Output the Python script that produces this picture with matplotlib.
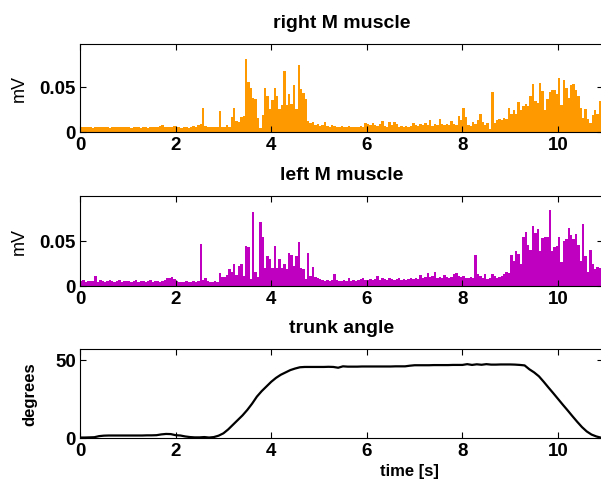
import numpy as np
import matplotlib
matplotlib.use('Agg')
import matplotlib.pyplot as plt
from matplotlib import rcParams

rcParams.update({'font.family': ['Liberation Sans', 'DejaVu Sans']})

# EMG envelopes, one value per 0.05 s bin (mV)
bin_width = 0.05
right_m = [
    # 0 s
    0.006, 0.005, 0.005, 0.006, 0.005, 0.004, 0.005, 0.005, 0.006, 0.005,
    0.005, 0.005, 0.004, 0.005, 0.006, 0.005, 0.005, 0.006, 0.005, 0.005,
    # 1 s
    0.005, 0.004, 0.005, 0.006, 0.005, 0.004, 0.005, 0.005, 0.004, 0.005,
    0.006, 0.005, 0.005, 0.007, 0.008, 0.006, 0.005, 0.006, 0.005, 0.007,
    # 2 s
    0.005, 0.006, 0.004, 0.005, 0.005, 0.004, 0.006, 0.007, 0.006, 0.008,
    0.009, 0.027, 0.007, 0.005, 0.006, 0.005, 0.005, 0.006, 0.023, 0.006,
    # 3 s
    0.005, 0.008, 0.006, 0.016, 0.027, 0.012, 0.011, 0.017, 0.018, 0.081,
    0.055, 0.048, 0.038, 0.036, 0.015, 0.004, 0.019, 0.049, 0.040, 0.025,
    # 4 s
    0.035, 0.048, 0.040, 0.025, 0.030, 0.067, 0.030, 0.042, 0.031, 0.052,
    0.025, 0.074, 0.047, 0.043, 0.036, 0.012, 0.010, 0.011, 0.008, 0.009,
    # 5 s
    0.007, 0.008, 0.011, 0.007, 0.006, 0.008, 0.007, 0.006, 0.006, 0.007,
    0.006, 0.006, 0.007, 0.005, 0.006, 0.005, 0.006, 0.007, 0.006, 0.010,
    # 6 s
    0.009, 0.008, 0.010, 0.008, 0.007, 0.009, 0.012, 0.007, 0.006, 0.011,
    0.008, 0.011, 0.009, 0.006, 0.007, 0.006, 0.007, 0.006, 0.007, 0.010,
    # 7 s
    0.008, 0.007, 0.009, 0.008, 0.010, 0.008, 0.013, 0.007, 0.009, 0.008,
    0.014, 0.009, 0.008, 0.009, 0.008, 0.012, 0.009, 0.008, 0.018, 0.013,
    # 8 s
    0.027, 0.016, 0.008, 0.007, 0.011, 0.009, 0.013, 0.020, 0.011, 0.008,
    0.010, 0.003, 0.044, 0.010, 0.013, 0.014, 0.013, 0.015, 0.014, 0.027,
    # 9 s
    0.020, 0.024, 0.020, 0.033, 0.024, 0.029, 0.031, 0.029, 0.040, 0.053,
    0.034, 0.032, 0.054, 0.045, 0.024, 0.036, 0.044, 0.046, 0.046, 0.042,
    # 10 s
    0.060, 0.030, 0.057, 0.049, 0.037, 0.052, 0.053, 0.046, 0.040, 0.027,
    0.015, 0.025, 0.014, 0.010, 0.019, 0.024, 0.020, 0.034, 0.022,
]
left_m = [
    # 0 s
    0.006, 0.007, 0.005, 0.006, 0.006, 0.006, 0.011, 0.005, 0.007, 0.006,
    0.005, 0.006, 0.007, 0.006, 0.005, 0.006, 0.007, 0.005, 0.006, 0.006,
    # 1 s
    0.006, 0.005, 0.006, 0.007, 0.005, 0.006, 0.006, 0.005, 0.006, 0.007,
    0.005, 0.006, 0.006, 0.005, 0.006, 0.007, 0.009, 0.009, 0.010, 0.008,
    # 2 s
    0.006, 0.005, 0.004, 0.005, 0.006, 0.004, 0.005, 0.006, 0.005, 0.006,
    0.047, 0.007, 0.009, 0.006, 0.005, 0.005, 0.006, 0.005, 0.015, 0.010,
    # 3 s
    0.010, 0.012, 0.019, 0.016, 0.024, 0.012, 0.022, 0.025, 0.011, 0.045,
    0.043, 0.008, 0.082, 0.016, 0.010, 0.071, 0.055, 0.020, 0.033, 0.030,
    # 4 s
    0.020, 0.045, 0.020, 0.030, 0.020, 0.025, 0.019, 0.037, 0.035, 0.022,
    0.033, 0.049, 0.020, 0.019, 0.008, 0.037, 0.011, 0.021, 0.010, 0.009,
    # 5 s
    0.008, 0.007, 0.006, 0.007, 0.006, 0.007, 0.013, 0.007, 0.006, 0.006,
    0.007, 0.006, 0.009, 0.006, 0.007, 0.006, 0.007, 0.008, 0.009, 0.007,
    # 6 s
    0.007, 0.008, 0.007, 0.008, 0.011, 0.007, 0.009, 0.008, 0.007, 0.009,
    0.008, 0.007, 0.008, 0.009, 0.007, 0.008, 0.007, 0.008, 0.009, 0.008,
    # 7 s
    0.009, 0.008, 0.012, 0.009, 0.010, 0.015, 0.010, 0.011, 0.016, 0.009,
    0.010, 0.009, 0.012, 0.010, 0.009, 0.010, 0.013, 0.015, 0.011, 0.010,
    # 8 s
    0.011, 0.009, 0.009, 0.010, 0.009, 0.034, 0.013, 0.011, 0.009, 0.013,
    0.008, 0.009, 0.013, 0.011, 0.009, 0.010, 0.011, 0.013, 0.016, 0.014,
    # 9 s
    0.034, 0.028, 0.039, 0.036, 0.025, 0.054, 0.060, 0.046, 0.040, 0.067,
    0.059, 0.063, 0.039, 0.053, 0.055, 0.055, 0.084, 0.039, 0.043, 0.044,
    # 10 s
    0.054, 0.027, 0.050, 0.052, 0.064, 0.057, 0.052, 0.058, 0.046, 0.028,
    0.069, 0.033, 0.016, 0.040, 0.025, 0.019, 0.021, 0.020, 0.015,
]

# trunk angle, one value per 0.1 s (degrees)
angle_step = 0.1
trunk = [
    0.3, 0.3, 0.4, 0.5, 1.2, 1.5, 1.6, 1.6, 1.6, 1.6,
    1.6, 1.6, 1.6, 1.6, 1.7, 1.7, 1.8, 2.3, 2.6, 2.5,
    1.8, 1.6, 1.0, 0.6, 0.4, 0.4, 0.6, 0.3, 0.6, 1.5,
    3.0, 5.5, 8.5, 11.5, 14.5, 18.0, 22.0, 26.5, 30.0, 33.0,
    36.0, 38.5, 40.5, 42.0, 43.5, 44.5, 45.3, 45.5, 45.5, 45.5,
    45.5, 45.5, 45.6, 45.5, 45.0, 45.9, 45.7, 45.7, 45.7, 45.8,
    45.8, 45.8, 45.8, 45.8, 45.8, 45.8, 45.9, 45.9, 45.9, 46.3,
    46.6, 46.6, 46.6, 46.6, 46.7, 46.7, 46.7, 46.7, 46.8, 46.8,
    46.8, 47.3, 46.8, 47.2, 46.9, 47.3, 47.0, 47.0, 47.1, 47.1,
    47.1, 47.0, 46.8, 46.5, 44.0, 42.0, 39.5, 36.0, 32.3, 28.7,
    25.0, 21.3, 17.7, 14.0, 10.4, 7.0, 4.2, 2.2, 1.0, 0.2,
]

W, H = 601, 481
LEFT, RIGHT = 80, 603
XMAX = 10.94


def pos(top, bottom):
    return [LEFT / W, 1 - bottom / H, (RIGHT - LEFT) / W, (bottom - top) / H]


def style(ax, title, ymax, yticks, yticklabels):
    ax.set_xlim(0, XMAX)
    ax.set_ylim(0, ymax)
    ax.set_xticks(np.arange(0, 11, 2))
    ax.set_yticks(yticks)
    ax.set_yticklabels(yticklabels)
    ax.tick_params(direction='in', top=True, right=True, length=4, width=0.8,
                   labelsize=13.5, pad=3)
    for lab in ax.get_xticklabels() + ax.get_yticklabels():
        lab.set_fontweight('bold')
    for sp in ax.spines.values():
        sp.set_linewidth(0.8)
    ax.set_title(title, fontsize=14, fontweight='bold', pad=12)


fig = plt.figure(figsize=(W / 100, H / 100), dpi=100)

ax1 = fig.add_axes(pos(45, 133))
t1 = np.arange(len(right_m)) * bin_width
ax1.bar(t1, right_m, width=bin_width, align='edge', color='#FF9900', linewidth=0)
style(ax1, 'right M muscle', 0.097, [0, 0.05], ['0', '0.05'])
ax1.set_ylabel('mV', fontsize=13)
ax1.yaxis.set_label_coords(-0.10, 0.5)

ax2 = fig.add_axes(pos(197, 287))
t2 = np.arange(len(left_m)) * bin_width
ax2.bar(t2, left_m, width=bin_width, align='edge', color='#C000C0', linewidth=0)
style(ax2, 'left M muscle', 0.1, [0, 0.05], ['0', '0.05'])
ax2.set_ylabel('mV', fontsize=13)
ax2.yaxis.set_label_coords(-0.10, 0.5)

ax3 = fig.add_axes(pos(350, 439))
t3 = np.arange(len(trunk)) * angle_step
ax3.plot(t3, trunk, color='black', linewidth=1.6)
style(ax3, 'trunk angle', 57, [0, 50], ['0', '50'])
ax3.set_ylabel('degrees', fontsize=12, fontweight='bold')
ax3.yaxis.set_label_coords(-0.082, 0.5)
ax3.set_xlabel('time [s]', fontsize=12, fontweight='bold', labelpad=0)
ax3.xaxis.set_label_coords(0.63, -0.28)

fig.savefig('out.png', dpi=100)
